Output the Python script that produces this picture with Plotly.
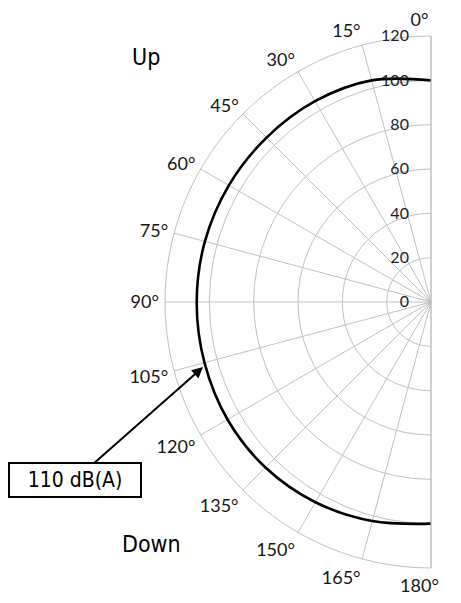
import plotly.graph_objects as go

# Data
angles = [0, 15, 30, 45, 60, 75, 90, 105, 120, 135, 150, 165, 180]
level_db = [100, 103.5, 104.6, 104.9, 105.3, 105.6, 105.7, 105.8, 106.0, 105.6, 104.3, 102.3, 100]
angle_ticks = list(range(0, 181, 15))
angle_labels = [f"{a}°" for a in angle_ticks]
radial_ticks = [0, 20, 40, 60, 80, 100, 120]
radial_labels = [str(v) for v in radial_ticks]

W, H = 461, 603
grid = "#c0c0c0"
tickfont_family = "Lato, 'Open Sans', sans-serif"
narrow = "'Liberation Sans Narrow', 'DejaVu Sans Condensed', 'Arial Narrow', sans-serif"

# the 0° and 180° labels sit a little left of the axis end in the reference
pad = "\u00a0" * 5
angle_text = [t + pad if a in (0, 180) else t for a, t in zip(angle_ticks, angle_labels)]

fig = go.Figure()
fig.add_trace(go.Scatterpolar(
    r=level_db, theta=angles, mode="lines",
    line=dict(color="black", width=2.6, shape="spline", smoothing=1.0),
    hoverinfo="skip", showlegend=False,
))

fig.update_layout(
    width=W, height=H,
    margin=dict(l=0, r=0, t=0, b=0),
    paper_bgcolor="white",
    plot_bgcolor="white",
    showlegend=False,
    polar=dict(
        bgcolor="white",
        sector=[90, 270],
        domain=dict(x=[165 / W, 431 / W], y=[1 - 568 / H, 1 - 36 / H]),
        angularaxis=dict(
            rotation=90, direction="counterclockwise",
            tickmode="array", tickvals=angle_ticks, ticktext=angle_text,
            showgrid=True, gridcolor=grid, gridwidth=1,
            showline=True, linecolor=grid, linewidth=1,
            ticks="outside", ticklen=2, tickcolor="rgba(0,0,0,0)",
            tickfont=dict(family=tickfont_family, size=18, color="#151515"),
        ),
        radialaxis=dict(
            range=[0, 120], angle=90, side="counterclockwise",
            tickmode="array", tickvals=radial_ticks, ticktext=radial_labels,
            tickangle=90,
            showgrid=True, gridcolor=grid, gridwidth=1,
            showline=False, ticks="outside", ticklen=16, tickcolor="rgba(0,0,0,0)",
            tickfont=dict(family=tickfont_family, size=16, color="#1a1a2a"),
        ),
    ),
    annotations=[
        dict(text="Up", x=146 / W, y=1 - 57 / H, xref="paper", yref="paper",
             xanchor="center", yanchor="middle",
             showarrow=False, font=dict(family=narrow, size=23, color="black")),
        dict(text="Down", x=151 / W, y=1 - 544 / H, xref="paper", yref="paper",
             xanchor="center", yanchor="middle",
             showarrow=False, font=dict(family=narrow, size=23, color="black")),
        dict(text="110 dB(A)", x=203 / W, y=1 - 367 / H, xref="paper", yref="paper",
             showarrow=True, ax=75 - 203, ay=480 - 367, axref="pixel", ayref="pixel",
             arrowhead=2, arrowsize=1.1, arrowwidth=2, arrowcolor="black", standoff=0,
             bordercolor="black", borderwidth=2, bgcolor="white",
             width=128, height=30,
             font=dict(family=narrow, size=21, color="black")),
    ],
)

fig.write_html("out.html", config={"displayModeBar": False},
               post_script="document.body.style.margin='0px';")
